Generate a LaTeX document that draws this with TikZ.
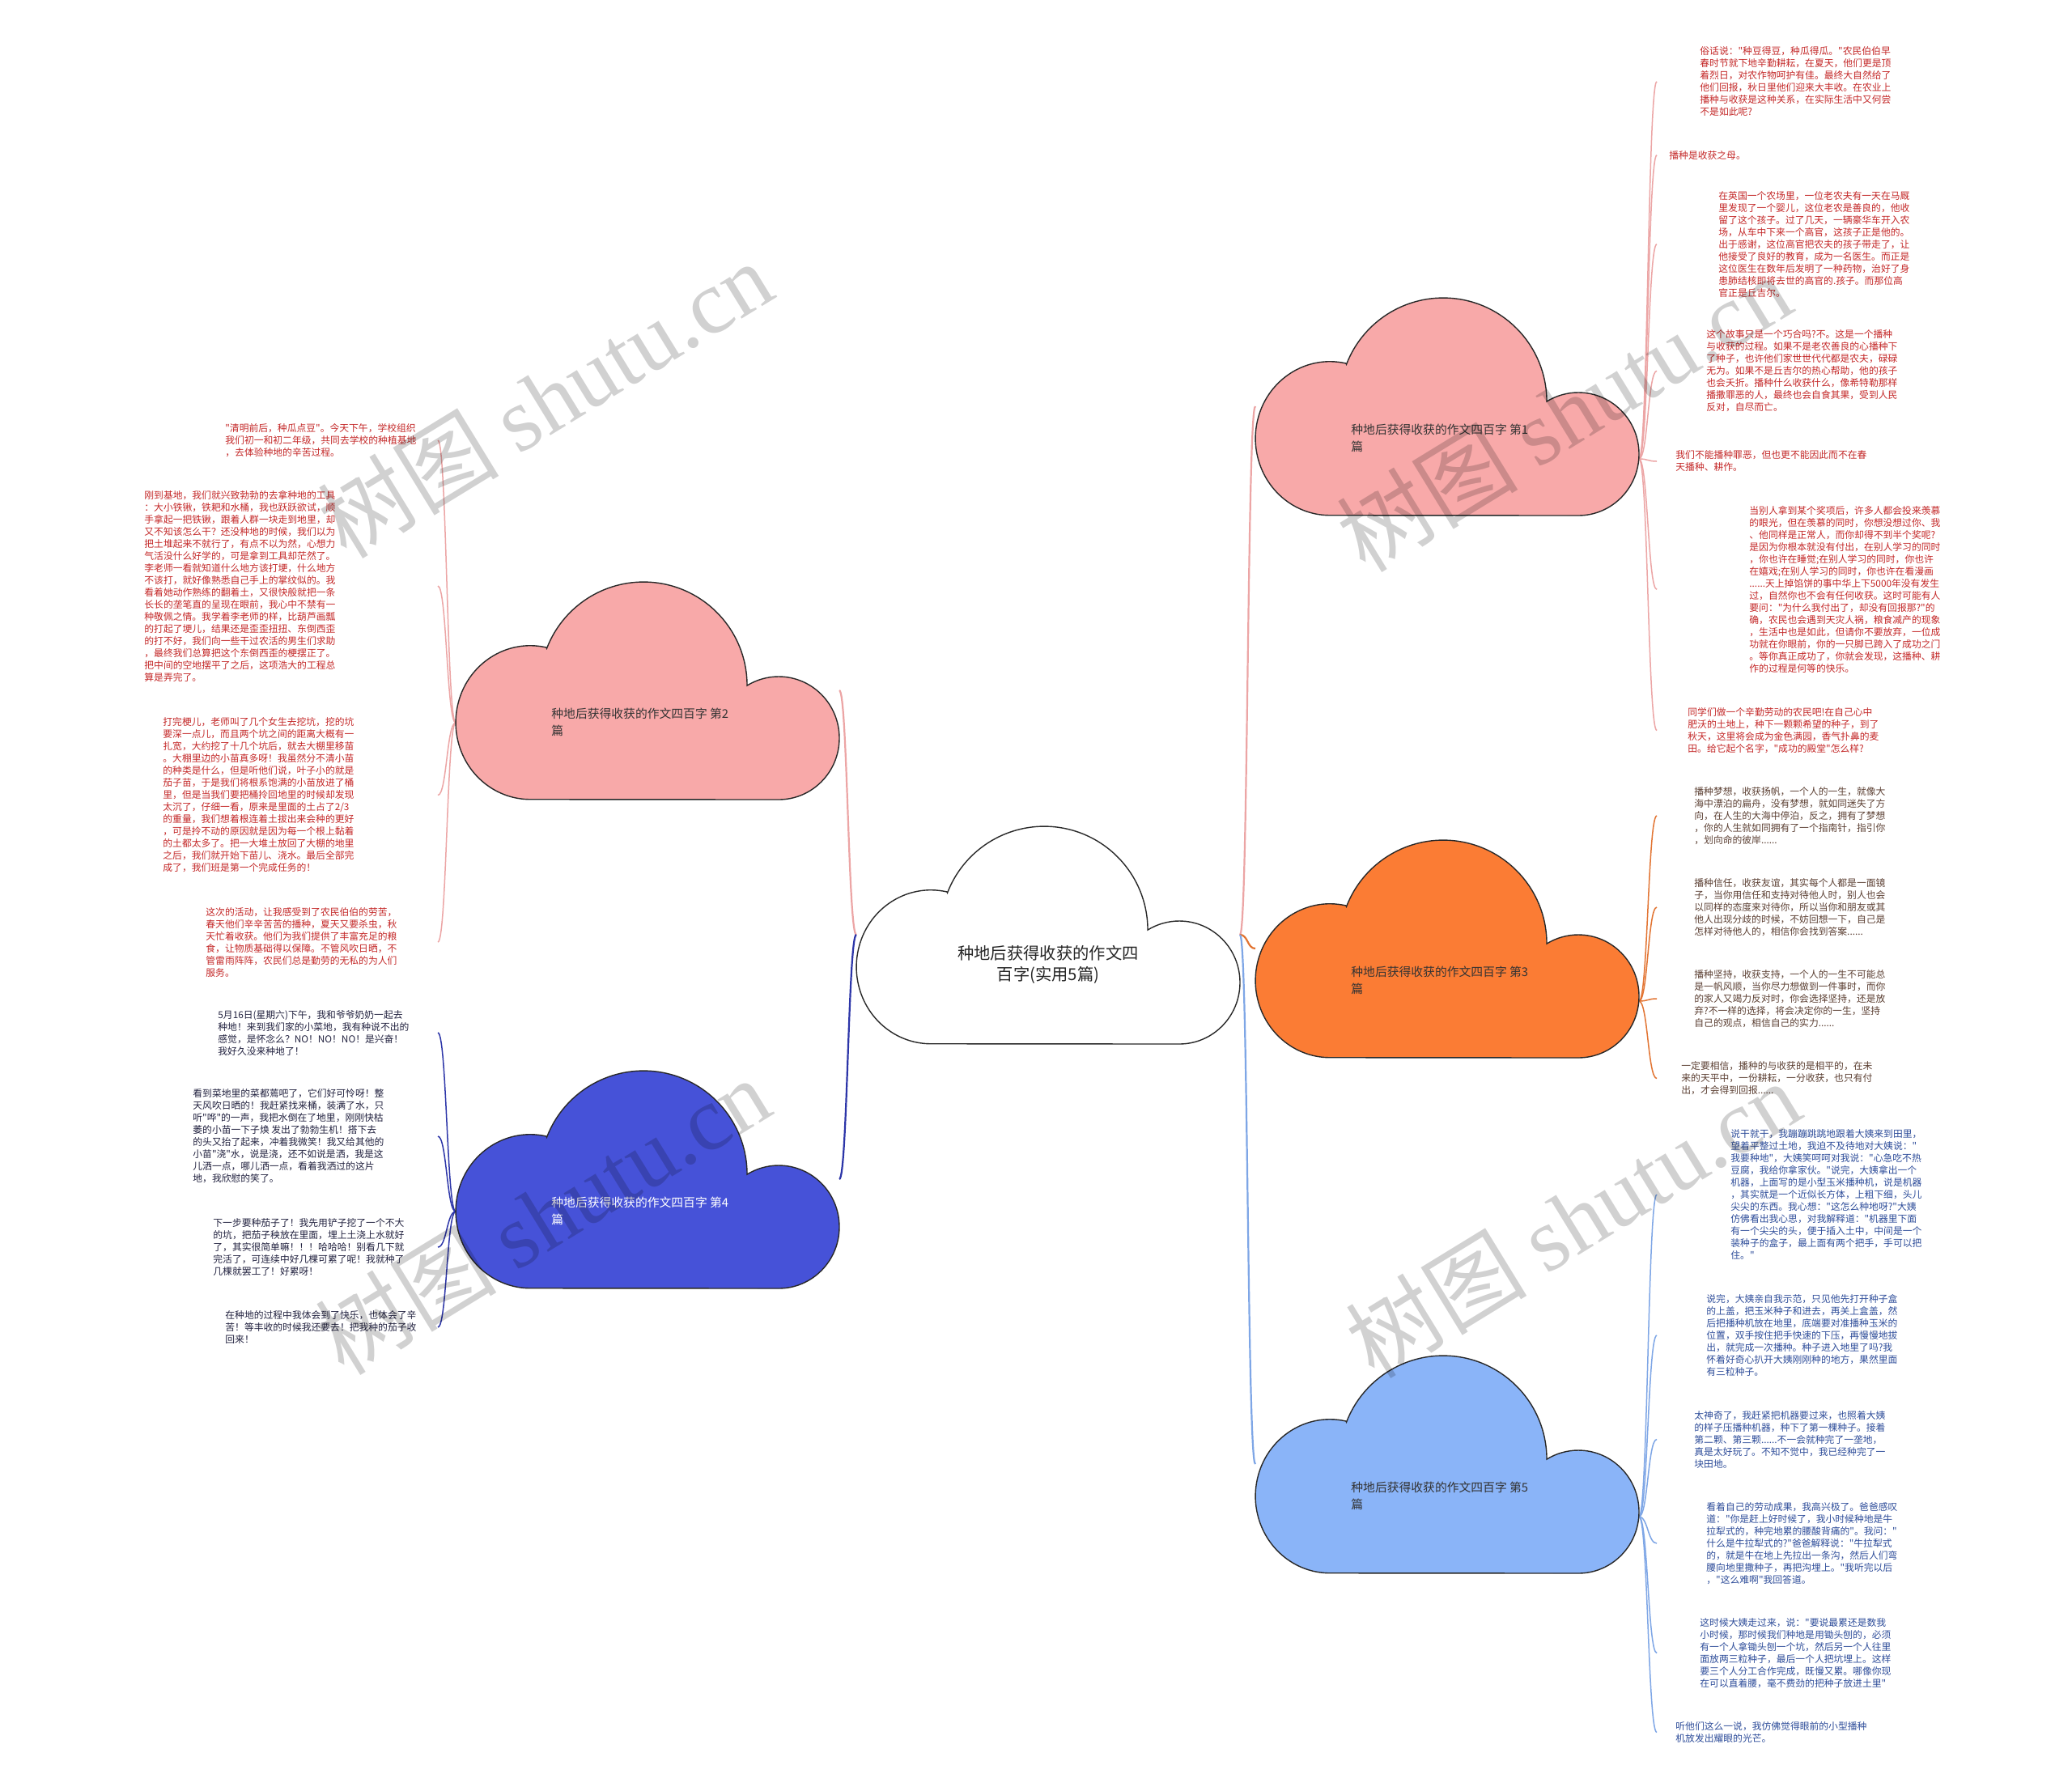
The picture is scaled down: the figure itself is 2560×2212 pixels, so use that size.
\documentclass[tikz,border=0pt]{standalone}
\usepackage{fontspec}
\setmainfont{Noto Sans CJK SC}
\newfontfamily\cjk{Noto Sans CJK SC}
\newfontfamily\wmlatin{Liberation Serif}
\definecolor{pinkfill}{RGB}{248,169,169}
\definecolor{orangefill}{RGB}{251,124,52}
\definecolor{bluefill}{RGB}{70,82,216}
\definecolor{lbluefill}{RGB}{138,180,248}
\definecolor{pinkline}{RGB}{236,165,165}
\definecolor{orangeline}{RGB}{226,116,50}
\definecolor{dblueline}{RGB}{44,53,168}
\definecolor{lblueline}{RGB}{126,166,230}
\definecolor{redtext}{RGB}{196,40,40}
\definecolor{browntext}{RGB}{92,64,51}
\definecolor{bluetext}{RGB}{46,77,154}
\definecolor{navytext}{RGB}{34,34,64}
\definecolor{cloudline}{RGB}{40,40,40}
\tikzset{
  pics/cloudshape/.style={code={
    \filldraw[fill=#1, draw=cloudline, line width=0.7pt]
      (112,82) arc[start angle=77.5, end angle=270, x radius=46pt, y radius=47.5pt]
      -- (399,270) arc[start angle=-90, end angle=121.3, x radius=37.5pt, y radius=38pt]
      arc[start angle=0, end angle=159, radius=64pt] -- cycle;
  }},
  leaf/.style={anchor=west, align=left, inner sep=0pt, font=\cjk\fontsize{5.9pt}{7.5pt}\selectfont},
  cloudlabel/.style={anchor=west, align=left, inner sep=0pt, font=\cjk\fontsize{7.4pt}{10.5pt}\selectfont, text=black!80},
  mainconn/.style={line width=1.1pt},
  leafconn/.style={line width=0.75pt},
  watermark/.style={rotate=31.5, text=black, opacity=0.18, inner sep=0pt, font=\cjk\fontsize{56pt}{58pt}\selectfont}
}
\begin{document}
\begin{tikzpicture}[x=0.5pt,y=-0.5pt]
\fill[white] (0,0) rectangle (2560,2212);
\useasboundingbox (0,0) rectangle (2560,2212);

% ---------- anchor coordinates ----------
\coordinate (cL) at (1058,1155);
\coordinate (cR) at (1532,1155);
\coordinate (c1in) at (1551,502);
\coordinate (c1out) at (2025,567);
\coordinate (c2in) at (1037,853);
\coordinate (c2out) at (563,893);
\coordinate (c3in) at (1551,1172);
\coordinate (c3out) at (2025,1237);
\coordinate (c4in) at (1037,1457);
\coordinate (c4out) at (563,1497);
\coordinate (c5in) at (1551,1809);
\coordinate (c5out) at (2025,1874);

% leaf connector ends
\coordinate (r1a-in) at (2047,100.8);
\coordinate (r1b-in) at (2047,191.7);
\coordinate (r1c-in) at (2047,301.7);
\coordinate (r1d-in) at (2047,458.3);
\coordinate (r1e-in) at (2047,570);
\coordinate (r1f-in) at (2047,728.3);
\coordinate (r1g-in) at (2047,902.5);
\coordinate (r3a-in) at (2047,1008);
\coordinate (r3b-in) at (2047,1121);
\coordinate (r3c-in) at (2047,1234);
\coordinate (r3d-in) at (2047,1332.5);
\coordinate (r5a-in) at (2047,1476);
\coordinate (r5b-in) at (2047,1650);
\coordinate (r5c-in) at (2047,1778.5);
\coordinate (r5d-in) at (2047,1907);
\coordinate (r5e-in) at (2047,2042.5);
\coordinate (r5f-in) at (2047,2140.5);
\coordinate (l2a-in) at (541,544);
\coordinate (l2b-in) at (541,724);
\coordinate (l2c-in) at (541,982.5);
\coordinate (l2d-in) at (541,1164);
\coordinate (l4a-in) at (541,1276);
\coordinate (l4b-in) at (541,1404);
\coordinate (l4c-in) at (541,1541);
\coordinate (l4d-in) at (541,1640);

% ---------- main connectors ----------
\draw[mainconn, pinkline] (cR) .. controls +(10,0) and +(-10,0) .. (c1in);
\draw[mainconn, orangeline] (cR) .. controls +(10,0) and +(-10,0) .. (c3in);
\draw[mainconn, lblueline] (cR) .. controls +(10,0) and +(-10,0) .. (c5in);
\draw[mainconn, pinkline] (cL) .. controls +(-10,0) and +(10,0) .. (c2in);
\draw[mainconn, dblueline] (cL) .. controls +(-10,0) and +(10,0) .. (c4in);

% ---------- leaf connectors ----------
\foreach \n in {r1a,r1b,r1c,r1d,r1e,r1f,r1g}
  \draw[leafconn, pinkline] (c1out) .. controls +(11,0) and +(-11,0) .. (\n-in);
\foreach \n in {r3a,r3b,r3c,r3d}
  \draw[leafconn, orangeline] (c3out) .. controls +(11,0) and +(-11,0) .. (\n-in);
\foreach \n in {r5a,r5b,r5c,r5d,r5e,r5f}
  \draw[leafconn, lblueline] (c5out) .. controls +(11,0) and +(-11,0) .. (\n-in);
\foreach \n in {l2a,l2b,l2c,l2d}
  \draw[leafconn, pinkline] (c2out) .. controls +(-11,0) and +(11,0) .. (\n-in);
\foreach \n in {l4a,l4b,l4c,l4d}
  \draw[leafconn, dblueline] (c4out) .. controls +(-11,0) and +(11,0) .. (\n-in);

% ---------- clouds ----------
\pic at (1058,1020) {cloudshape=white};
\pic at (1551,367) {cloudshape=pinkfill};
\pic at (563,718) {cloudshape=pinkfill};
\pic at (1551,1037) {cloudshape=orangefill};
\pic at (563,1322) {cloudshape=bluefill};
\pic at (1551,1674) {cloudshape=lbluefill};

\node[align=center, inner sep=0pt, font=\cjk\fontsize{10.15pt}{13.3pt}\selectfont, text=black!85] (c0t) at (1295,1192) {种地后获得收获的作文四\\百字(实用5篇)};
\node[cloudlabel] (c1t) at (1669,541) {种地后获得收获的作文四百字 第1\\篇};
\node[cloudlabel] (c2t) at (681,892) {种地后获得收获的作文四百字 第2\\篇};
\node[cloudlabel] (c3t) at (1669,1211) {种地后获得收获的作文四百字 第3\\篇};
\node[cloudlabel, text=white] (c4t) at (681,1496) {种地后获得收获的作文四百字 第4\\篇};
\node[cloudlabel] (c5t) at (1669,1848) {种地后获得收获的作文四百字 第5\\篇};

% ---------- leaves: cloud 1 ----------
\node[leaf, text=redtext] (r1a) at (2100,100.8) {俗话说："种豆得豆，种瓜得瓜。"农民伯伯早\\春时节就下地辛勤耕耘，在夏天，他们更是顶\\着烈日，对农作物呵护有佳。最终大自然给了\\他们回报，秋日里他们迎来大丰收。在农业上\\播种与收获是这种关系，在实际生活中又何尝\\不是如此呢?};
\node[leaf, text=redtext] (r1b) at (2062,191.7) {播种是收获之母。};
\node[leaf, text=redtext] (r1c) at (2123,301.7) {在英国一个农场里，一位老农夫有一天在马厩\\里发现了一个婴儿，这位老农是善良的，他收\\留了这个孩子。过了几天，一辆豪华车开入农\\场，从车中下来一个高官，这孩子正是他的。\\出于感谢，这位高官把农夫的孩子带走了，让\\他接受了良好的教育，成为一名医生。而正是\\这位医生在数年后发明了一种药物，治好了身\\患肺结核即将去世的高官的.孩子。而那位高\\官正是丘吉尔。};
\node[leaf, text=redtext] (r1d) at (2108,458.3) {这个故事只是一个巧合吗?不。这是一个播种\\与收获的过程。如果不是老农善良的心播种下\\了种子，也许他们家世世代代都是农夫，碌碌\\无为。如果不是丘吉尔的热心帮助，他的孩子\\也会夭折。播种什么收获什么，像希特勒那样\\播撒罪恶的人，最终也会自食其果，受到人民\\反对，自尽而亡。};
\node[leaf, text=redtext] (r1e) at (2070,570) {我们不能播种罪恶，但也更不能因此而不在春\\天播种、耕作。};
\node[leaf, text=redtext] (r1f) at (2161,728.3) {当别人拿到某个奖项后，许多人都会投来羡慕\\的眼光，但在羡慕的同时，你想没想过你、我\\、他同样是正常人，而你却得不到半个奖呢?\\是因为你根本就没有付出，在别人学习的同时\\，你也许在睡觉;在别人学习的同时，你也许\\在嬉戏;在别人学习的同时，你也许在看漫画\\......天上掉馅饼的事中华上下5000年没有发生\\过，自然你也不会有任何收获。这时可能有人\\要问："为什么我付出了，却没有回报那?"的\\确，农民也会遇到天灾人祸，粮食减产的现象\\，生活中也是如此，但请你不要放弃，一位成\\功就在你眼前，你的一只脚已跨入了成功之门\\。等你真正成功了，你就会发现，这播种、耕\\作的过程是何等的快乐。};
\node[leaf, text=redtext] (r1g) at (2085,902.5) {同学们做一个辛勤劳动的农民吧!在自己心中\\肥沃的土地上，种下一颗颗希望的种子，到了\\秋天，这里将会成为金色满园，香气扑鼻的麦\\田。给它起个名字，"成功的殿堂"怎么样?};

% ---------- leaves: cloud 3 ----------
\node[leaf, text=browntext] (r3a) at (2093,1008) {播种梦想，收获扬帆，一个人的一生，就像大\\海中漂泊的扁舟，没有梦想，就如同迷失了方\\向，在人生的大海中停泊，反之，拥有了梦想\\，你的人生就如同拥有了一个指南针，指引你\\，划向命的彼岸......};
\node[leaf, text=browntext] (r3b) at (2093,1121) {播种信任，收获友谊，其实每个人都是一面镜\\子，当你用信任和支持对待他人时，别人也会\\以同样的态度来对待你，所以当你和朋友或其\\他人出现分歧的时候，不妨回想一下，自己是\\怎样对待他人的，相信你会找到答案......};
\node[leaf, text=browntext] (r3c) at (2093,1234) {播种坚持，收获支持，一个人的一生不可能总\\是一帆风顺，当你尽力想做到一件事时，而你\\的家人又竭力反对时，你会选择坚持，还是放\\弃?不一样的选择，将会决定你的一生，坚持\\自己的观点，相信自己的实力......};
\node[leaf, text=browntext] (r3d) at (2077,1332.5) {一定要相信，播种的与收获的是相平的，在未\\来的天平中，一份耕耘，一分收获，也只有付\\出，才会得到回报......};

% ---------- leaves: cloud 5 ----------
\node[leaf, text=bluetext] (r5a) at (2138,1476) {说干就干，我蹦蹦跳跳地跟着大姨来到田里，\\望着平整过土地，我迫不及待地对大姨说："\\我要种地"，大姨笑呵呵对我说："心急吃不热\\豆腐，我给你拿家伙。"说完，大姨拿出一个\\机器，上面写的是小型玉米播种机，说是机器\\，其实就是一个近似长方体，上粗下细，头儿\\尖尖的东西。我心想："这怎么种地呀?"大姨\\仿佛看出我心思，对我解释道："机器里下面\\有一个尖尖的头，便于插入土中，中间是一个\\装种子的盒子，最上面有两个把手，手可以把\\住。"};
\node[leaf, text=bluetext] (r5b) at (2108,1650) {说完，大姨亲自我示范，只见他先打开种子盒\\的上盖，把玉米种子和进去，再关上盒盖，然\\后把播种机放在地里，底端要对准播种玉米的\\位置，双手按住把手快速的下压，再慢慢地拔\\出，就完成一次播种。种子进入地里了吗?我\\怀着好奇心扒开大姨刚刚种的地方，果然里面\\有三粒种子。};
\node[leaf, text=bluetext] (r5c) at (2093,1778.5) {太神奇了，我赶紧把机器要过来，也照着大姨\\的样子压播种机器，种下了第一棵种子。接着\\第二颗、第三颗......不一会就种完了一垄地，\\真是太好玩了。不知不觉中，我已经种完了一\\块田地。};
\node[leaf, text=bluetext] (r5d) at (2108,1907) {看着自己的劳动成果，我高兴极了。爸爸感叹\\道："你是赶上好时候了，我小时候种地是牛\\拉犁式的，种完地累的腰酸背痛的"。我问："\\什么是牛拉犁式的?"爸爸解释说："牛拉犁式\\的，就是牛在地上先拉出一条沟，然后人们弯\\腰向地里撒种子，再把沟埋上。"我听完以后\\，"这么难啊"我回答道。};
\node[leaf, text=bluetext] (r5e) at (2100,2042.5) {这时候大姨走过来，说："要说最累还是数我\\小时候，那时候我们种地是用锄头刨的，必须\\有一个人拿锄头刨一个坑，然后另一个人往里\\面放两三粒种子，最后一个人把坑埋上。这样\\要三个人分工合作完成，既慢又累。哪像你现\\在可以直着腰，毫不费劲的把种子放进土里"};
\node[leaf, text=bluetext] (r5f) at (2070,2140.5) {听他们这么一说，我仿佛觉得眼前的小型播种\\机放发出耀眼的光芒。};

% ---------- leaves: cloud 2 ----------
\node[leaf, text=redtext] (l2a) at (278,544) {"清明前后，种瓜点豆"。今天下午，学校组织\\我们初一和初二年级，共同去学校的种植基地\\，去体验种地的辛苦过程。};
\node[leaf, text=redtext] (l2b) at (178,724) {刚到基地，我们就兴致勃勃的去拿种地的工具\\：大小铁锹，铁耙和水桶，我也跃跃欲试，顺\\手拿起一把铁锹，跟着人群一块走到地里，却\\又不知该怎么干？还没种地的时候，我们以为\\把土堆起来不就行了，有点不以为然，心想力\\气活没什么好学的，可是拿到工具却茫然了。\\李老师一看就知道什么地方该打埂，什么地方\\不该打，就好像熟悉自己手上的掌纹似的。我\\看着她动作熟练的翻着土，又很快般就把一条\\长长的垄笔直的呈现在眼前，我心中不禁有一\\种敬佩之情。我学着李老师的样，比葫芦画瓢\\的打起了埂儿，结果还是歪歪扭扭、东倒西歪\\的打不好，我们向一些干过农活的男生们求助\\，最终我们总算把这个东倒西歪的梗摆正了。\\把中间的空地摆平了之后，这项浩大的工程总\\算是弄完了。};
\node[leaf, text=redtext] (l2c) at (201,982.5) {打完梗儿，老师叫了几个女生去挖坑，挖的坑\\要深一点儿，而且两个坑之间的距离大概有一\\扎宽，大约挖了十几个坑后，就去大棚里移苗\\。大棚里边的小苗真多呀！我虽然分不清小苗\\的种类是什么，但是听他们说，叶子小的就是\\茄子苗，于是我们将根系饱满的小苗放进了桶\\里，但是当我们要把桶拎回地里的时候却发现\\太沉了，仔细一看，原来是里面的土占了2/3\\的重量，我们想着根连着土拔出来会种的更好\\，可是拎不动的原因就是因为每一个根上黏着\\的土都太多了。把一大堆土放回了大棚的地里\\之后，我们就开始下苗儿、浇水。最后全部完\\成了，我们班是第一个完成任务的！};
\node[leaf, text=redtext] (l2d) at (254,1164) {这次的活动，让我感受到了农民伯伯的劳苦，\\春天他们辛辛苦苦的播种，夏天又要杀虫，秋\\天忙着收获。他们为我们提供了丰富充足的粮\\食，让物质基础得以保障。不管风吹日晒，不\\管雷雨阵阵，农民们总是勤劳的无私的为人们\\服务。};

% ---------- leaves: cloud 4 ----------
\node[leaf, text=navytext] (l4a) at (269,1276) {5月16日(星期六)下午，我和爷爷奶奶一起去\\种地！来到我们家的小菜地，我有种说不出的\\感觉，是怀念么？NO！NO！NO！是兴奋！\\我好久没来种地了！};
\node[leaf, text=navytext] (l4b) at (238,1404) {看到菜地里的菜都蔫吧了，它们好可怜呀！整\\天风吹日晒的！我赶紧找来桶，装满了水，只\\听"哗"的一声，我把水倒在了地里，刚刚快枯\\萎的小苗一下子焕 发出了勃勃生机！搭下去\\的头又抬了起来，冲着我微笑！我又给其他的\\小苗"浇"水，说是浇，还不如说是洒，我是这\\儿洒一点，哪儿洒一点，看着我洒过的这片\\地，我欣慰的笑了。};
\node[leaf, text=navytext] (l4c) at (263,1541) {下一步要种茄子了！我先用铲子挖了一个不大\\的坑，把茄子秧放在里面，埋上土浇上水就好\\了，其实很简单嘛！！！哈哈哈！别看几下就\\完活了，可连续中好几棵可累了呢！我就种了\\几棵就罢工了！好累呀！};
\node[leaf, text=navytext] (l4d) at (278,1640) {在种地的过程中我体会到了快乐，也体会了辛\\苦！等丰收的时候我还要去！把我种的茄子收\\回来！};

% ---------- watermarks ----------
\node[watermark] (wm1) at (673,493) {树图 {\wmlatin shutu.cn}};
\node[watermark] (wm2) at (1932,510) {树图 {\wmlatin shutu.cn}};
\node[watermark] (wm3) at (670,1502) {树图 {\wmlatin shutu.cn}};
\node[watermark] (wm4) at (1943,1506) {树图 {\wmlatin shutu.cn}};
\end{tikzpicture}
\end{document}
